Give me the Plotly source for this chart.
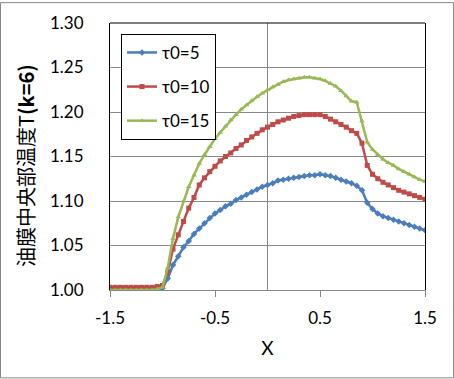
import plotly.graph_objects as go

x_vals = [-1.50, -1.45, -1.40, -1.35, -1.30, -1.25, -1.20, -1.15, -1.10, -1.05,
          -1.00, -0.95, -0.90, -0.85, -0.80, -0.75, -0.70, -0.65, -0.60, -0.55,
          -0.50, -0.45, -0.40, -0.35, -0.30, -0.25, -0.20, -0.15, -0.10, -0.05,
          0.00, 0.05, 0.10, 0.15, 0.20, 0.25, 0.30, 0.35, 0.40, 0.45,
          0.50, 0.55, 0.60, 0.65, 0.70, 0.75, 0.80, 0.85, 0.90, 0.95,
          1.00, 1.05, 1.10, 1.15, 1.20, 1.25, 1.30, 1.35, 1.40, 1.45, 1.50]

tau5 = [1.001, 1.001, 1.001, 1.001, 1.001, 1.001, 1.001, 1.001, 1.001, 1.001,
        1.002, 1.013, 1.028, 1.038, 1.048, 1.055, 1.063, 1.069, 1.075, 1.081,
        1.086, 1.090, 1.094, 1.097, 1.101, 1.104, 1.107, 1.110, 1.113, 1.116,
        1.118, 1.120, 1.123, 1.124, 1.125, 1.126, 1.127, 1.128, 1.129, 1.129,
        1.130, 1.129, 1.128, 1.126, 1.124, 1.122, 1.120, 1.117, 1.112, 1.098,
        1.091, 1.086, 1.083, 1.081, 1.079, 1.077, 1.075, 1.073, 1.071, 1.069, 1.067]

tau10 = [1.003, 1.003, 1.003, 1.003, 1.003, 1.003, 1.003, 1.003, 1.003, 1.004,
         1.005, 1.020, 1.046, 1.062, 1.077, 1.092, 1.104, 1.118, 1.126, 1.133,
         1.139, 1.145, 1.150, 1.154, 1.159, 1.163, 1.168, 1.172, 1.176, 1.180,
         1.183, 1.186, 1.189, 1.191, 1.193, 1.195, 1.196, 1.197, 1.197, 1.197,
         1.197, 1.195, 1.192, 1.189, 1.186, 1.183, 1.179, 1.176, 1.165, 1.140,
         1.130, 1.125, 1.121, 1.118, 1.115, 1.112, 1.110, 1.108, 1.106, 1.104, 1.102]

tau15 = [1.000, 1.000, 1.000, 1.000, 1.000, 1.000, 1.000, 1.000, 1.000, 1.001,
         1.003, 1.025, 1.058, 1.082, 1.100, 1.116, 1.129, 1.142, 1.152, 1.161,
         1.170, 1.177, 1.184, 1.191, 1.197, 1.203, 1.208, 1.213, 1.217, 1.221,
         1.225, 1.228, 1.231, 1.234, 1.236, 1.237, 1.238, 1.239, 1.239, 1.238,
         1.237, 1.235, 1.232, 1.229, 1.224, 1.218, 1.212, 1.211, 1.190, 1.166,
         1.158, 1.152, 1.147, 1.143, 1.140, 1.136, 1.133, 1.130, 1.127, 1.124, 1.122]

series_names = ["τ0=5", "τ0=10", "τ0=15"]
series_vals = [tau5, tau10, tau15]
colors = ["#4A7EBB", "#BE4B48", "#98B954"]
symbols = ["diamond", "square", "triangle-up"]

x_ticks = [-1.5, -0.5, 0.5, 1.5]
x_tick_text = ["-1.5", "-0.5", "0.5", "1.5"]
y_ticks = [1.00, 1.05, 1.10, 1.15, 1.20, 1.25, 1.30]
y_tick_text = ["1.00", "1.05", "1.10", "1.15", "1.20", "1.25", "1.30"]
y_title_main = "油膜中央部温度T"
y_title_tail = "(k=6)"

FONT = "Lato, 'Noto Sans', sans-serif"

fig = go.Figure()
for i, (name, vals) in enumerate(zip(series_names, series_vals)):
    fig.add_trace(go.Scatter(
        x=x_vals, y=vals, name=name, mode="lines+markers",
        line=dict(color=colors[i], width=2.5),
        marker=dict(symbol=symbols[i], size=5, color=colors[i]),
        legendgroup="g%d" % i,
    ))

L, R, T, B = 110, 29, 21, 89
W, H = 454, 379
pw, ph = W - L - R, H - T - B

def px_x(p):
    return (p - L) / pw

def px_y(p):
    return (T + ph - p) / ph

fig.update_layout(
    width=W, height=H,
    margin=dict(l=L, r=R, t=T, b=B),
    paper_bgcolor="white", plot_bgcolor="white",
    font=dict(family=FONT, size=17, color="black"),
    showlegend=True,
    legend=dict(
        x=px_x(121), y=px_y(32), xanchor="left", yanchor="top",
        bordercolor="black", borderwidth=1, bgcolor="white",
        font=dict(family=FONT, size=17),
        tracegroupgap=9, itemwidth=30,
    ),
    xaxis=dict(
        range=[-1.5, 1.5], tickvals=x_ticks, ticktext=x_tick_text,
        showgrid=False, zeroline=True, zerolinecolor="#888888", zerolinewidth=1,
        showline=True, linecolor="#888888", linewidth=1,
        ticks="outside", ticklen=6, tickcolor="#888888",
        ticklabelstandoff=7,
        title=dict(text="X", font=dict(family=FONT, size=19), standoff=14),
    ),
    yaxis=dict(
        range=[1.0, 1.3], tickvals=y_ticks, ticktext=y_tick_text,
        showgrid=True, gridcolor="#888888", gridwidth=1,
        zeroline=False,
        showline=True, linecolor="black", linewidth=1, mirror=True,
        ticks="outside", ticklen=0,
        ticklabelstandoff=22,
    ),
    annotations=[
        dict(text=y_title_main + "<b>" + y_title_tail + "</b>", textangle=-90, showarrow=False,
             xref="paper", yref="paper", x=px_x(26), y=px_y(165),
             xanchor="center", yanchor="middle",
             font=dict(family="'Noto Sans CJK JP', sans-serif", size=20, color="black")),
    ],
    shapes=[
        dict(type="line", xref="paper", yref="paper", x0=0, x1=1, y0=1, y1=1,
             line=dict(color="black", width=1), layer="above"),
        dict(type="rect", xref="paper", yref="paper",
             x0=px_x(0.5), x1=px_x(W - 0.5),
             y0=px_y(H - 0.5), y1=px_y(0.5),
             line=dict(color="#888888", width=1), layer="above"),
    ],
)

fig.write_html("out.html", config={"displayModeBar": False},
               post_script="document.body.style.margin='0';")
